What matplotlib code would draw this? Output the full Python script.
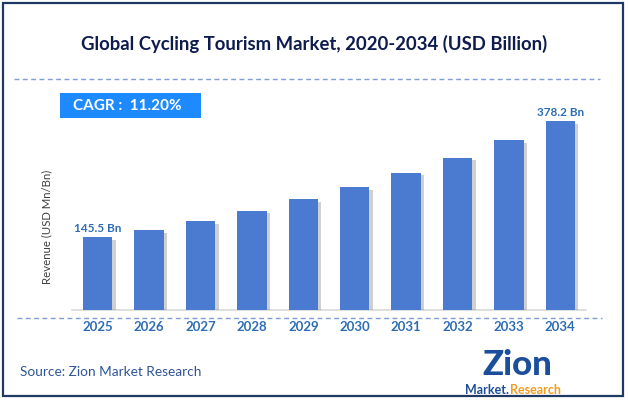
import matplotlib
matplotlib.use("Agg")
import matplotlib.pyplot as plt
import matplotlib.patheffects as pe
from matplotlib.patches import Rectangle
from matplotlib.lines import Line2D

# chart data
years = ["2025", "2026", "2027", "2028", "2029", "2030", "2031", "2032", "2033", "2034"]
revenue = [145.5, 160.1, 178.1, 198.8, 222.1, 246.1, 274.8, 304.8, 339.5, 378.2]
first_label = "145.5 Bn"
last_label = "378.2 Bn"
title = "Global Cycling Tourism Market, 2020-2034 (USD Billion)"
cagr_text = "CAGR :  11.20%"
source_text = "Source: Zion Market Research"

plt.rcParams['font.family'] = ['Lato', 'DejaVu Sans']

bar_color = "#4B7BD0"
label_blue = "#2E6DB4"
navy = "#0D1B4F"
dash_col = "#7F9ED6"

fig = plt.figure(figsize=(6.28, 4.0), dpi=100)
W, H = 628, 400

def fx(px):
    return px / W

def fy(py):
    return 1 - py / H

# outer border
fig.add_artist(Rectangle((fx(3), fy(396)), fx(620), (393) / H, transform=fig.transFigure,
                         fill=False, edgecolor="#1F3864", linewidth=1.6))

# title
fig.text(fx(314), fy(44), title, ha="center", va="center", fontsize=13.3,
         fontweight="bold", color=navy)

# dashed separators
fig.add_artist(Line2D([fx(14), fx(600)], [fy(79), fy(79)], transform=fig.transFigure,
                      color=dash_col, linewidth=1.0, linestyle=(0, (3.5, 2.5))))
fig.add_artist(Line2D([fx(17), fx(602)], [fy(318), fy(318)], transform=fig.transFigure,
                      color=dash_col, linewidth=1.0, linestyle=(0, (3.5, 2.5))))

# CAGR box
fig.add_artist(Rectangle((fx(60), fy(118)), fx(141), 25 / H, transform=fig.transFigure,
                         facecolor="#1E8AFF", edgecolor="none"))
fig.text(fx(127), fy(106), cagr_text, ha="center", va="center", fontsize=11,
         fontweight="bold", color="white")

# bar axes
ax = fig.add_axes([fx(72), fy(310), fx(586 - 72), 210 / H])
x = range(len(years))
bars = ax.bar(x, revenue, width=0.57, color=bar_color, zorder=3)
for b in bars:
    b.set_path_effects([pe.SimplePatchShadow(offset=(2.5, -2), shadow_rgbFace="#7A7A7A", alpha=0.35),
                        pe.Normal()])

ax.set_xlim(-0.5, len(years) - 0.5)
ax.set_ylim(0, 420)
ax.set_yticks([])
ax.set_xticks(list(x))
ax.set_xticklabels(years, fontsize=9.5, fontweight="bold", color=label_blue)
ax.tick_params(axis="x", length=0, pad=8)
for s in ["top", "right", "left"]:
    ax.spines[s].set_visible(False)
ax.spines["bottom"].set_color("#D9D9D9")
ax.spines["bottom"].set_linewidth(1.2)

ax.text(0, revenue[0] + 6, first_label, ha="center", va="bottom", fontsize=8.5,
        fontweight="bold", color=label_blue)
ax.text(len(years) - 1, revenue[-1] + 6, last_label, ha="center", va="bottom", fontsize=8.5,
        fontweight="bold", color=label_blue)

fig.text(fx(47), fy(227), "Revenue (USD Mn/Bn)", rotation=90, ha="center", va="center",
         fontsize=8.2, color="#404040")

# source
fig.text(fx(20), fy(372), source_text, ha="left", va="center", fontsize=9.8, color="#2F5597")

# logo (text version)
fig.text(fx(517), fy(375), "Zion", ha="center", va="baseline", fontsize=25,
         fontweight="black", color="#1B4F9C")
fig.text(fx(509), fy(390), "Market.", ha="right", va="center", fontsize=9,
         fontweight="bold", color="#1B4F9C")
fig.text(fx(510), fy(390), "Research", ha="left", va="center", fontsize=9,
         fontweight="bold", color="#F39C1E")

fig.savefig("out.png", dpi=100)
